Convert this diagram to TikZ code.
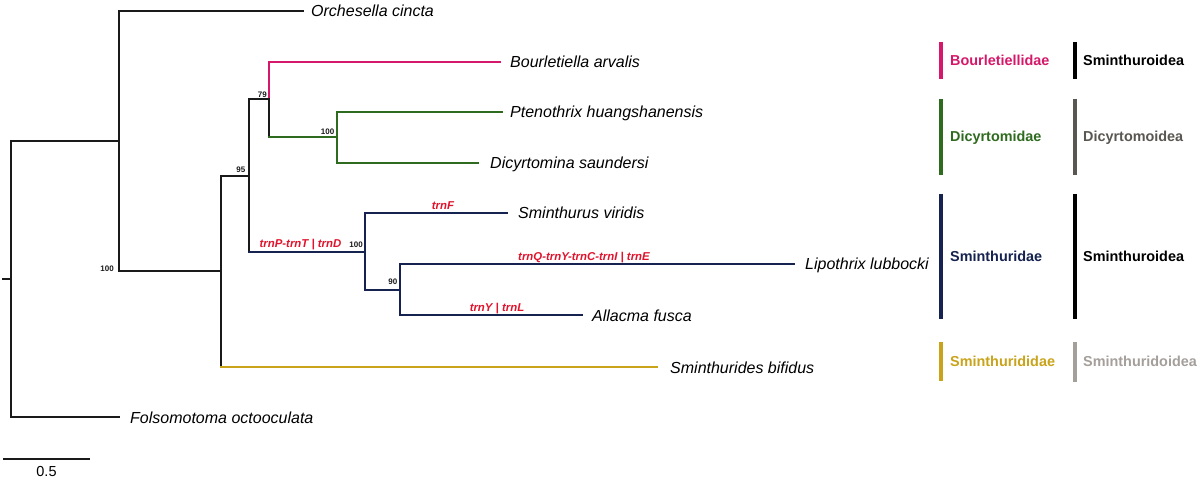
\documentclass[tikz,border=0pt]{standalone}
\usepackage{fontspec}
\setmainfont{Liberation Sans}
\definecolor{cpink}{HTML}{D5186A}
\definecolor{cgreen}{HTML}{2F6B1F}
\definecolor{cnavy}{HTML}{16224F}
\definecolor{cyellow}{HTML}{C9A31A}
\definecolor{cred}{HTML}{E0142D}
\definecolor{cgrey}{HTML}{5A5652}
\definecolor{clgrey}{HTML}{A59F9B}
\definecolor{cblack}{HTML}{1A1A1A}
\begin{document}
\begin{tikzpicture}[x=1pt,y=-1pt,
  br/.style={line width=1.5pt,draw=cblack,line cap=rect},
  species/.style={anchor=base west,inner sep=0pt,font=\fontsize{16}{19}\selectfont\itshape,text=black},
  supp/.style={anchor=base east,inner sep=0pt,font=\fontsize{8}{10}\selectfont\bfseries,text=cblack},
  gene/.style={anchor=base,inner sep=0pt,font=\fontsize{11.4}{13}\selectfont\bfseries\itshape,text=cred},
  fam/.style={anchor=base west,inner sep=0pt,font=\fontsize{14.4}{17}\selectfont\bfseries},
  bar/.style={line width=4pt},
]
\useasboundingbox (0,0) rectangle (1200,481);
\fill[white] (0,0) rectangle (1200,481);

% internal nodes
\coordinate (rs) at (3,279);
\coordinate (root) at (11,279);
\coordinate (n1) at (119,141);
\coordinate (n2) at (221,271);
\coordinate (n3) at (249,176);
\coordinate (n4) at (269,99);
\coordinate (n5) at (337,137);
\coordinate (n6) at (365,252);
\coordinate (n7) at (400,290);

% leaf tips
\coordinate (tOrc) at (303,11);
\coordinate (tBou) at (500,62);
\coordinate (tPte) at (502,112);
\coordinate (tDic) at (478,163);
\coordinate (tSmi) at (507,213);
\coordinate (tLip) at (794,264);
\coordinate (tAll) at (582,315);
\coordinate (tSbi) at (657,367);
\coordinate (tFol) at (119,417);

% species labels
\node[species] (Orc) at (311,17) {Orchesella cincta};
\node[species] (Bou) at (510,68) {Bourletiella arvalis};
\node[species] (Pte) at (510,118) {Ptenothrix huangshanensis};
\node[species] (Dic) at (490,169) {Dicyrtomina saundersi};
\node[species] (Smi) at (518,219) {Sminthurus viridis};
\node[species] (Lip) at (805,270) {Lipothrix lubbocki};
\node[species] (All) at (592,321) {Allacma fusca};
\node[species] (Sbi) at (670,373) {Sminthurides bifidus};
\node[species] (Fol) at (130,423) {Folsomotoma octooculata};

% branches
\draw[br] (rs) -- (root);
\draw[br] (root) |- (n1);
\draw[br] (root) |- (tFol);
\draw[br] (n1) |- (tOrc);
\draw[br] (n1) |- (n2);
\draw[br] (n2) |- (n3);
\draw[br] (n2) -- (n2 |- tSbi);
\draw[br,draw=cyellow] (n2 |- tSbi) -- (tSbi);
\draw[br] (n3) |- (n4);
\draw[br] (n3) -- (n3 |- n6);
\draw[br,draw=cnavy] (n3 |- n6) -- (n6);
\draw[br,draw=cpink] (n4) |- (tBou);
\draw[br] (n4) -- (n4 |- n5);
\draw[br,draw=cgreen] (n4 |- n5) -- (n5);
\draw[br,draw=cgreen] (n5) |- (tPte);
\draw[br,draw=cgreen] (n5) |- (tDic);
\draw[br,draw=cnavy] (n6) |- (tSmi);
\draw[br,draw=cnavy] (n6) |- (n7);
\draw[br,draw=cnavy] (n7) |- (tLip);
\draw[br,draw=cnavy] (n7) |- (tAll);

% support values
\node[supp] (s2) at (114,272) {100};
\node[supp] (s3) at (245.5,173) {95};
\node[supp] (s4) at (267,97.5) {79};
\node[supp] (s5) at (334.5,135) {100};
\node[supp] (s6) at (363,248) {100};
\node[supp] (s7) at (397.5,285) {90};

% gene rearrangement labels
\node[gene] (g1) at (300.5,248) {trnP-trnT | trnD};
\node[gene] (g2) at (443,210) {trnF};
\node[gene] (g3) at (584,261) {trnQ-trnY-trnC-trnI | trnE};
\node[gene] (g4) at (497,311) {trnY | trnL};

% family bars
\coordinate (f1t) at (941,42);  \coordinate (f1b) at (941,79);
\coordinate (f2t) at (941,99);  \coordinate (f2b) at (941,175);
\coordinate (f3t) at (941,194); \coordinate (f3b) at (941,319);
\coordinate (f4t) at (941,342); \coordinate (f4b) at (941,381);
\draw[bar,cpink] (f1t) -- (f1b);
\draw[bar,cgreen] (f2t) -- (f2b);
\draw[bar,cnavy] (f3t) -- (f3b);
\draw[bar,cyellow] (f4t) -- (f4b);
\node[fam,text=cpink] (F1) at (950,65.5) {Bourletiellidae};
\node[fam,text=cgreen] (F2) at (950,142) {Dicyrtomidae};
\node[fam,text=cnavy] (F3) at (950,261.5) {Sminthuridae};
\node[fam,text=cyellow] (F4) at (950,366.5) {Sminthurididae};

% superfamily bars
\coordinate (p1t) at (1075,42);  \coordinate (p1b) at (1075,79);
\coordinate (p2t) at (1075,99);  \coordinate (p2b) at (1075,175);
\coordinate (p3t) at (1075,194); \coordinate (p3b) at (1075,319);
\coordinate (p4t) at (1075,342); \coordinate (p4b) at (1075,382);
\draw[bar,black] (p1t) -- (p1b);
\draw[bar,cgrey] (p2t) -- (p2b);
\draw[bar,black] (p3t) -- (p3b);
\draw[bar,clgrey] (p4t) -- (p4b);
\node[fam,text=black] (P1) at (1083,65.5) {Sminthuroidea};
\node[fam,text=cgrey] (P2) at (1083,142) {Dicyrtomoidea};
\node[fam,text=black] (P3) at (1083,261.5) {Sminthuroidea};
\node[fam,text=clgrey] (P4) at (1083,366.5) {Sminthuridoidea};

% scale bar
\coordinate (sb1) at (3,459);
\coordinate (sb2) at (90,459);
\draw[line width=2pt,cblack] (sb1) -- (sb2);
\node[anchor=base,inner sep=0pt,font=\fontsize{14.5}{17}\selectfont] (sbl) at (46.5,476) {0.5};
\end{tikzpicture}
\end{document}
